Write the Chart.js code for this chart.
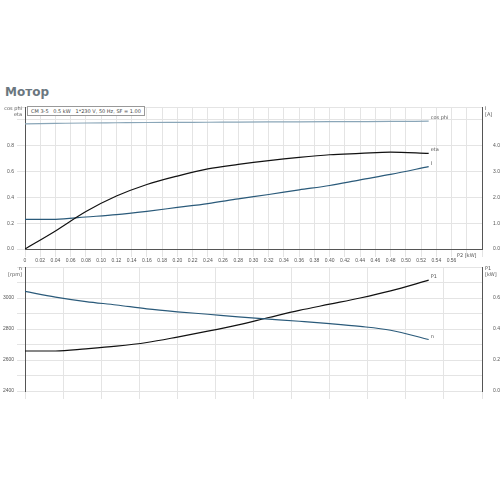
<!DOCTYPE html>
<html><head><meta charset="utf-8">
<script src="https://cdn.jsdelivr.net/npm/chart.js@4"></script>
<style>
body{margin:0;background:#fff;font-family:"DejaVu Sans",sans-serif}
#title{position:absolute;left:5px;top:85px;font-size:12px;font-weight:bold;color:#6b7780}
#top{position:absolute;left:0;top:101px;width:500px;height:164px}
#bot{position:absolute;left:0;top:261px;width:500px;height:138px}
#info{position:absolute;left:27px;top:106px;font-size:5px;color:#444;border:1px solid #999;padding:1px 3px;background:#fff}
</style></head><body>
<div id="title">Мотор</div>
<div id="top"><canvas id="c1"></canvas></div>
<div id="bot"><canvas id="c2"></canvas></div>
<div id="info">CM 3-5 &nbsp; 0.5 kW &nbsp; 1*230 V, 50 Hz, SF = 1.00</div>
<script>
// shared P2 values (kW)
const p2 = [0, 0.04, 0.08, 0.12, 0.16, 0.20, 0.24, 0.28, 0.32, 0.36, 0.40, 0.44, 0.48, 0.53];
const eta = [0, 0.14, 0.29, 0.41, 0.50, 0.565, 0.62, 0.655, 0.685, 0.71, 0.73, 0.74, 0.75, 0.74];
const cosPhi = [0.97, 0.973, 0.976, 0.978, 0.98, 0.981, 0.982, 0.983, 0.984, 0.985, 0.986, 0.987, 0.988, 0.99];
const current = [1.15, 1.15, 1.24, 1.33, 1.46, 1.61, 1.76, 1.94, 2.11, 2.29, 2.46, 2.68, 2.89, 3.19];
const speed = [3043, 3006, 2977, 2955, 2930, 2911, 2895, 2878, 2864, 2850, 2835, 2817, 2792, 2732];
const p1 = [0.258, 0.258, 0.272, 0.289, 0.313, 0.348, 0.386, 0.427, 0.474, 0.52, 0.56, 0.60, 0.646, 0.715];

const pts = ys => ys.map((y, i) => ({x: p2[i], y}));
const tick = {font: {size: 5}, color: '#555'};
const grid = {color: '#e4e4e4'};

// label at the end of each curve
const endLabels = {
  id: 'endLabels',
  afterDatasetsDraw(chart) {
    const c = chart.ctx;
    c.save(); c.font = '5px DejaVu Sans'; c.fillStyle = '#555';
    chart.data.datasets.forEach((ds, i) => {
      const el = chart.getDatasetMeta(i).data.at(-1);
      c.fillText(ds.label, el.x + 2, el.y - 2);
    });
    c.restore();
  }
};
// axis titles at top of each side
const axisTitles = (l, r) => ({
  id: 'axisTitles',
  afterDraw(chart) {
    const c = chart.ctx, a = chart.chartArea;
    c.save(); c.font = '5px DejaVu Sans'; c.fillStyle = '#555';
    c.textAlign = 'right'; l.forEach((t, i) => c.fillText(t, a.left - 3, a.top + 3 + i * 6));
    c.textAlign = 'left'; r.forEach((t, i) => c.fillText(t, a.right + 3, a.top + 3 + i * 6));
    c.restore();
  }
});
const lineEl = {point: {radius: 0}, line: {borderWidth: 1.2, cubicInterpolationMode: 'monotone'}};

new Chart(document.getElementById('c1'), {
  type: 'line',
  data: {datasets: [
    {label: 'cos phi', data: pts(cosPhi), borderColor: '#8aa6b8', yAxisID: 'y'},
    {label: 'eta', data: pts(eta), borderColor: '#111', yAxisID: 'y'},
    {label: 'I', data: pts(current), borderColor: '#2a5a7a', yAxisID: 'y1'}
  ]},
  options: {
    animation: false, responsive: true, maintainAspectRatio: false,
    layout: {padding: {left: 0, right: 0, top: 4, bottom: 0}},
    elements: lineEl,
    plugins: {legend: {display: false}, tooltip: {enabled: false}},
    scales: {
      x: {type: 'linear', min: 0, max: 0.6, grid, border: {color: '#555'},
          ticks: {...tick, stepSize: 0.02, maxRotation: 0, autoSkip: false, padding: 1,
                  callback: v => v >= 0.57 ? '' : (v === 0 ? '0' : v.toFixed(2))}},
      y: {min: 0, max: 1.1, grid, border: {color: '#555'}, afterFit: s => { s.width = 25; },
          ticks: {...tick, stepSize: 0.2, callback: v => v > 0.85 ? '' : v.toFixed(1)}},
      y1: {position: 'right', min: 0, max: 5.5, grid: {display: false}, border: {color: '#555'}, afterFit: s => { s.width = 18; },
          ticks: {...tick, stepSize: 1, callback: v => v > 4.2 ? '' : v.toFixed(1)}}
    }
  },
  plugins: [endLabels, axisTitles(['cos phi', 'eta'], ['I', '[A]']), {
    id: 'p2lbl', afterDraw(ch) {
      const c = ch.ctx; c.save(); c.font = '5px DejaVu Sans'; c.fillStyle = '#555'; c.textAlign = 'center';
      c.fillText('P2 [kW]', ch.scales.x.getPixelForValue(0.58), ch.chartArea.bottom + 8); c.restore();
    }
  }]
});

new Chart(document.getElementById('c2'), {
  type: 'line',
  data: {datasets: [
    {label: 'n', data: pts(speed), borderColor: '#2a5a7a', yAxisID: 'y'},
    {label: 'P1', data: pts(p1), borderColor: '#111', yAxisID: 'y1'}
  ]},
  options: {
    animation: false, responsive: true, maintainAspectRatio: false,
    layout: {padding: {top: 4, bottom: 0}},
    elements: lineEl,
    plugins: {legend: {display: false}, tooltip: {enabled: false}},
    scales: {
      x: {type: 'linear', min: 0, max: 0.6, grid, border: {display: false},
          ticks: {display: false, stepSize: 0.05}},
      y: {min: 2400, max: 3200, grid, border: {color: '#555'}, afterFit: s => { s.width = 25; },
          ticks: {...tick, stepSize: 100, callback: v => v % 200 || v > 3100 ? '' : v}},
      y1: {position: 'right', min: 0, max: 0.8, grid: {display: false}, border: {color: '#555'}, afterFit: s => { s.width = 18; },
          ticks: {...tick, stepSize: 0.2, callback: v => v > 0.7 ? '' : v.toFixed(1)}}
    }
  },
  plugins: [endLabels, axisTitles(['n', '[rpm]'], ['P1', '[kW]'])]
});
</script>
</body></html>
